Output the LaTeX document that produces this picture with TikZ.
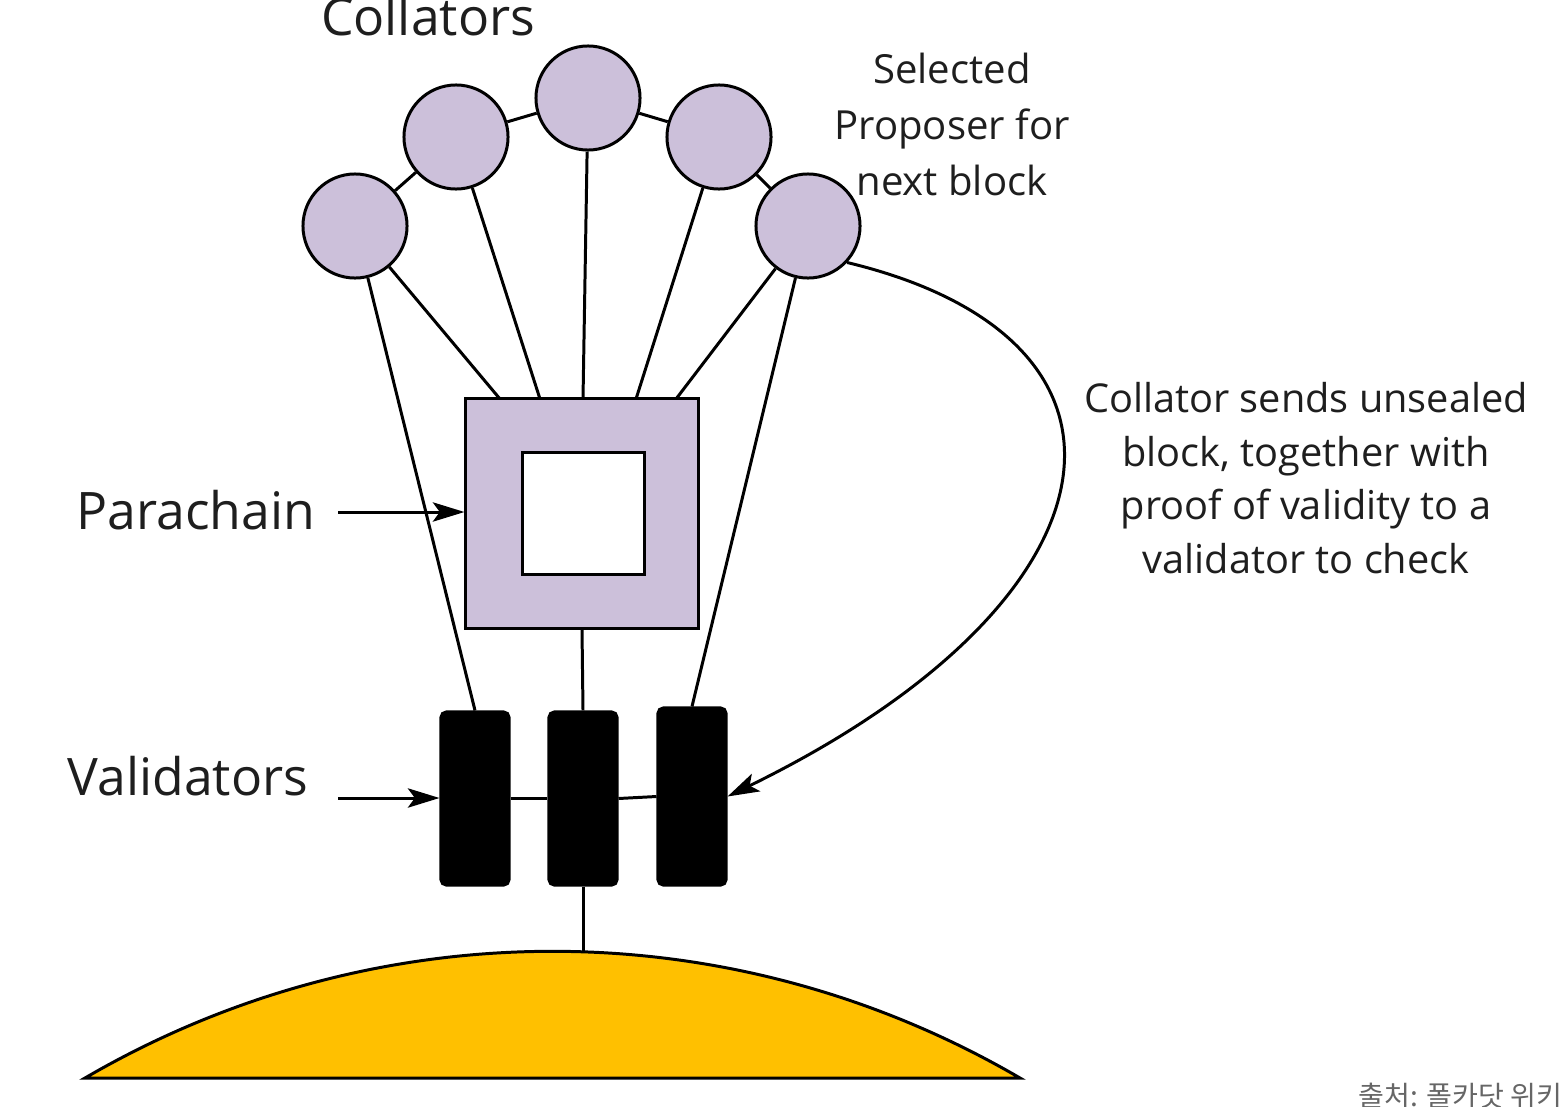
\documentclass[tikz,border=0pt]{standalone}
\usepackage{fontspec}
\setmainfont{Open Sans}
\newfontfamily\krfont{Noto Sans CJK KR}
\usetikzlibrary{arrows.meta,positioning,shapes.geometric}
\definecolor{lavender}{RGB}{204,192,218}
\definecolor{amber}{RGB}{255,192,0}
\definecolor{inkgray}{RGB}{30,30,30}
\tikzset{%
	collator/.style  = {draw, circle, fill=lavender, minimum size=1.04cm, inner sep=0pt},
	chainbox/.style  = {draw, rectangle, inner sep=0pt},
	validator/.style = {draw, fill=black, rectangle, rounded corners=1.5pt, minimum width=0.68cm, inner sep=0pt},
	biglabel/.style  = {text=inkgray, font=\fontsize{14.7}{17}\selectfont, inner sep=0pt},
	smalllabel/.style= {text=inkgray, align=center, inner sep=0pt},
	pointer/.style   = {-{Stealth[length=9pt,width=5.5pt,inset=2pt]}},
}
\begin{document}
\begin{tikzpicture}[x=0.01cm,y=-0.01cm,line width=0.85pt]
		\useasboundingbox (0,0) rectangle (1567,1106);
		\node[collator] (c1) at (355,226) {};
		\node[collator] (c2) at (456,137) {};
		\node[collator] (c3) at (588,98) {};
		\node[collator] (c4) at (719,137) {};
		\node[collator] (c5) at (808,226) {};
		\draw (c1) -- (c2) -- (c3) -- (c4) -- (c5);
		\node[chainbox, fill=lavender, minimum width=2.32cm, minimum height=2.29cm] (pc) at (582,513.5) {};
		\node[chainbox, fill=white, minimum size=1.21cm] (pcin) at (583.5,513.5) {};
		\node[validator, minimum height=1.73cm] (v1) at (475,798.5) {};
		\node[validator, minimum height=1.73cm] (v2) at (583,798.5) {};
		\node[validator, minimum height=1.77cm] (v3) at (692,796.5) {};
		\coordinate (t1) at (500,399);
		\coordinate (t2) at (540,399);
		\coordinate (t3) at (583,399);
		\coordinate (t4) at (636,399);
		\coordinate (t5) at (676,399);
		\draw (c1) -- (t1);
		\draw (c2) -- (t2);
		\draw (c3) -- (t3);
		\draw (c4) -- (t4);
		\draw (c5) -- (t5);
		\draw (c1) -- (v1.north);
		\draw (c5) -- (v3.north);
		\draw (pc.south) -- (v2.north);
		\draw (v1.east) -- (v2.west);
		\draw (v2.east) -- (v3.west);
		\draw[fill=amber] (85,1078) to[bend left=30.24, looseness=0.92] coordinate[pos=0.53] (earth) (1020,1078) -- cycle;
		\draw (v2.south) -- (v2.south |- earth);
		\draw[pointer] (c5.-43) .. controls (1170,340) and (1130,600) .. (v3.east);
		\node[biglabel, anchor=base] (coltext) at (428,35) {Collators};
		\node[biglabel, anchor=base] (pctext) at (196,529) {Parachain};
		\node[biglabel, anchor=base] (vtext) at (188,795) {Validators};
		\coordinate (pcfrom) at (338,512);
		\coordinate (vfrom) at (338,798);
		\draw[pointer] (pcfrom) -- (pc.west |- pcfrom);
		\draw[pointer] (vfrom) -- (v1.west |- vfrom);
		\node[smalllabel, font=\fontsize{11.4}{15.9}\selectfont, anchor=north] (seltext) at (952,52) {Selected\\Proposer for\\next block};
		\node[smalllabel, font=\fontsize{11.3}{15.2}\selectfont, anchor=north] (sendtext) at (1306,381) {Collator sends unsealed\\block, together with\\proof of validity to a\\validator to check};
		\node[text=black!60, font=\krfont\fontsize{8}{10}\selectfont, anchor=base east, inner sep=0pt] (src) at (1564,1106) {출처: 폴카닷 위키};
\end{tikzpicture}
\end{document}
